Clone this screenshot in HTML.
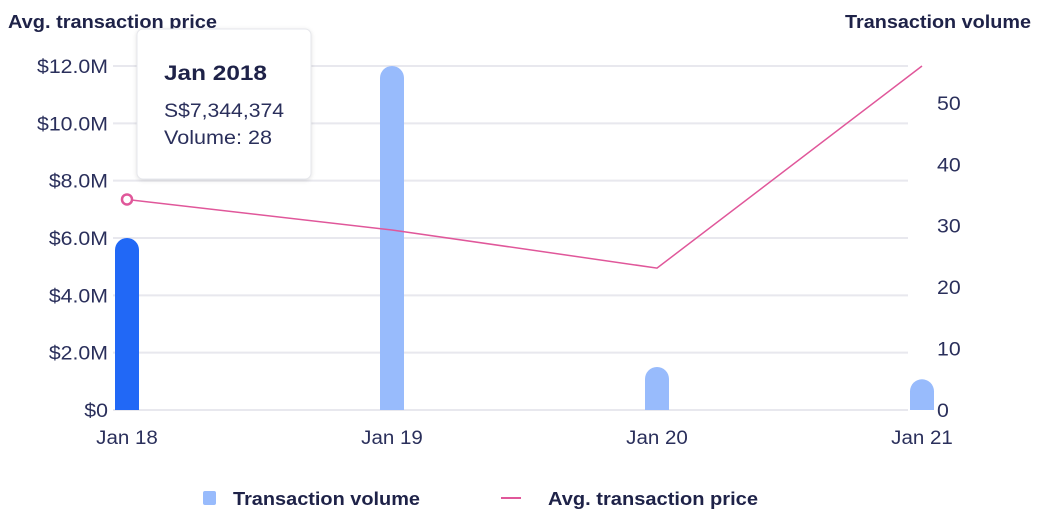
<!DOCTYPE html>
<html><head><meta charset="utf-8"><style>
body{margin:0;background:#fff;width:1047px;height:521px;overflow:hidden;font-family:"Liberation Sans",sans-serif}
</style></head><body>
<svg width="1047" height="521" xmlns="http://www.w3.org/2000/svg">
<g id="grid"></g><g id="axes"></g><g id="bars"></g><g id="line"></g>
<text x="8" y="28" font-size="18" font-weight="bold" fill="#1e2248" textLength="209" lengthAdjust="spacingAndGlyphs">Avg. transaction price</text>
<text x="845" y="28" font-size="18" font-weight="bold" fill="#1e2248" textLength="186" lengthAdjust="spacingAndGlyphs">Transaction volume</text>
<g>
<rect x="137" y="29" width="174" height="150" rx="6" fill="#fff" stroke="#e6e7ec" style="filter:drop-shadow(0 1px 2px rgba(0,0,0,0.12))"/>
<text x="164" y="80" font-size="21" font-weight="bold" fill="#1e2248" textLength="103" lengthAdjust="spacingAndGlyphs">Jan 2018</text>
<text x="164" y="117" font-size="19" fill="#2a2f5b" textLength="120" lengthAdjust="spacingAndGlyphs">S$7,344,374</text>
<text x="164" y="144" font-size="19" fill="#2a2f5b" textLength="108" lengthAdjust="spacingAndGlyphs">Volume: 28</text>
</g>
<g>
<g><rect x="203" y="491" width="13" height="14" rx="2" fill="#98bbfc"/><text x="233" y="505" font-size="18" font-weight="bold" fill="#1e2248" textLength="187" lengthAdjust="spacingAndGlyphs">Transaction volume</text></g>
<g><line x1="501" y1="498" x2="521" y2="498" stroke="#e0579a" stroke-width="2"/><text x="548" y="505" font-size="18" font-weight="bold" fill="#1e2248" textLength="210" lengthAdjust="spacingAndGlyphs">Avg. transaction price</text></g>
</g>
</svg>
<script>
const categories=["Jan 18","Jan 19","Jan 20","Jan 21"];
const volumes=[28,56,7,5];
const prices=[7344374,6280000,4950000,12000000];
const leftTicks=[0,2,4,6,8,10,12];
const rightTicks=[0,10,20,30,40,50];
const NS="http://www.w3.org/2000/svg";
const x0=127,x1=922,yBase=410,yTop=66,rightMax=56,leftMax=12e6;
const xs=i=>x0+(x1-x0)*i/(categories.length-1);
const yL=v=>yBase-(yBase-yTop)*v/leftMax;
const yR=v=>yBase-(yBase-yTop)*v/rightMax;
function mk(t,a,p){const e=document.createElementNS(NS,t);for(const k in a)e.setAttribute(k,a[k]);p.appendChild(e);return e;}
function widen(tx,f){const w=tx.getComputedTextLength();tx.setAttribute('textLength',w*f);tx.setAttribute('lengthAdjust','spacingAndGlyphs');}
const grid=document.getElementById('grid'),axes=document.getElementById('axes');
leftTicks.forEach(t=>{const y=yL(t*1e6);
const l=mk('line',{x1:113,x2:908,y1:y,y2:y,stroke:'#e8e8ee','stroke-width':2},grid);


const tx=mk('text',{x:108,y:y+7,'font-size':19,fill:'#2a2f5b','text-anchor':'end'},axes);
tx.textContent=t===0?'$0':'$'+t.toFixed(1)+'M';


widen(tx,1.12);});
rightTicks.forEach(t=>{const y=yR(t);
const tx=mk('text',{x:937,y:y+7,'font-size':19,fill:'#2a2f5b'},axes);tx.textContent=t;


widen(tx,1.12);});
categories.forEach((c,i)=>{const tx=mk('text',{x:xs(i),y:444,'font-size':19,fill:'#2a2f5b','text-anchor':'middle'},axes);tx.textContent=c;


widen(tx,1.08);});
const bars=document.getElementById('bars');
volumes.forEach((v,i)=>{const x=xs(i),y=yR(v),w=24,r=12;
const d=`M${x-w/2},${yBase} L${x-w/2},${y+r} A${r},${r} 0 0 1 ${x+w/2},${y+r} L${x+w/2},${yBase} Z`;
const p=mk('path',{d:d,fill:i===0?'#2168f6':'#98bbfc'},bars);

});
const lg=document.getElementById('line');
const pl=mk('polyline',{points:prices.map((v,i)=>xs(i)+','+yL(v)).join(' '),fill:'none',stroke:'#e0579a','stroke-width':1.5},lg);


const c=mk('circle',{cx:xs(0),cy:yL(prices[0]),r:5,fill:'#fff',stroke:'#e0579a','stroke-width':2.5},lg);


</script>
</body></html>
